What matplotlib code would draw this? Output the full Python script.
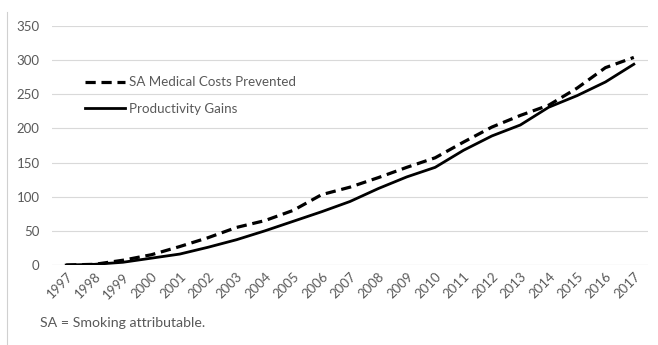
import matplotlib.pyplot as plt
from matplotlib.lines import Line2D

plt.rcParams['font.family'] = ['Lato', 'DejaVu Sans']

years = [str(y) for y in range(1997, 2018)]
medical_costs = [0, 1, 7, 15, 27, 40, 55, 65, 80, 103, 114, 128, 143, 157, 180, 202, 219, 234, 259, 289, 304]
productivity = [0, 1, 4, 10, 16, 26, 37, 50, 64, 78, 93, 112, 129, 143, 168, 189, 205, 231, 248, 268, 294]
yticks = [0, 50, 100, 150, 200, 250, 300, 350]

grey = '#595959'

fig = plt.figure(figsize=(6.58, 3.45), dpi=100)
ax = fig.add_axes([52/658, 80/345, 596/658, 239/345])

x = range(len(years))
ax.plot(x, medical_costs, color='black', lw=2.3, dashes=(3.2, 1.8), label='SA Medical Costs Prevented')
ax.plot(x, productivity, color='black', lw=2.0, label='Productivity Gains')

ax.set_xlim(-0.5, len(years) - 0.5)
ax.set_ylim(0, 350)
ax.set_yticks(yticks)
ax.set_xticks(list(x))
ax.set_xticklabels(years, rotation=45, ha='right', rotation_mode='anchor')
ax.tick_params(axis='both', length=0, colors=grey, labelsize=9.5)
ax.tick_params(axis='y', pad=9)
ax.tick_params(axis='x', pad=4)
ax.grid(axis='y', color='#d9d9d9', lw=0.8)
ax.set_axisbelow(True)
for s in ax.spines.values():
    s.set_visible(False)
ax.axhline(0, color='#d9d9d9', lw=0.8, zorder=0)

leg = ax.legend(loc='upper left', bbox_to_anchor=(0.035, 0.84), frameon=False,
                fontsize=9.6, handlelength=3.0, handletextpad=0.3, labelspacing=1.1)
for t in leg.get_texts():
    t.set_color(grey)

fig.text(40/658, 1 - 323/345, 'SA = Smoking attributable.', color=grey, fontsize=10.2, va='center')
fig.add_artist(Line2D([7/658, 7/658], [0, 1 - 12/345], color='#d0d0d0', lw=0.8))

fig.savefig('out.png', dpi=100)
